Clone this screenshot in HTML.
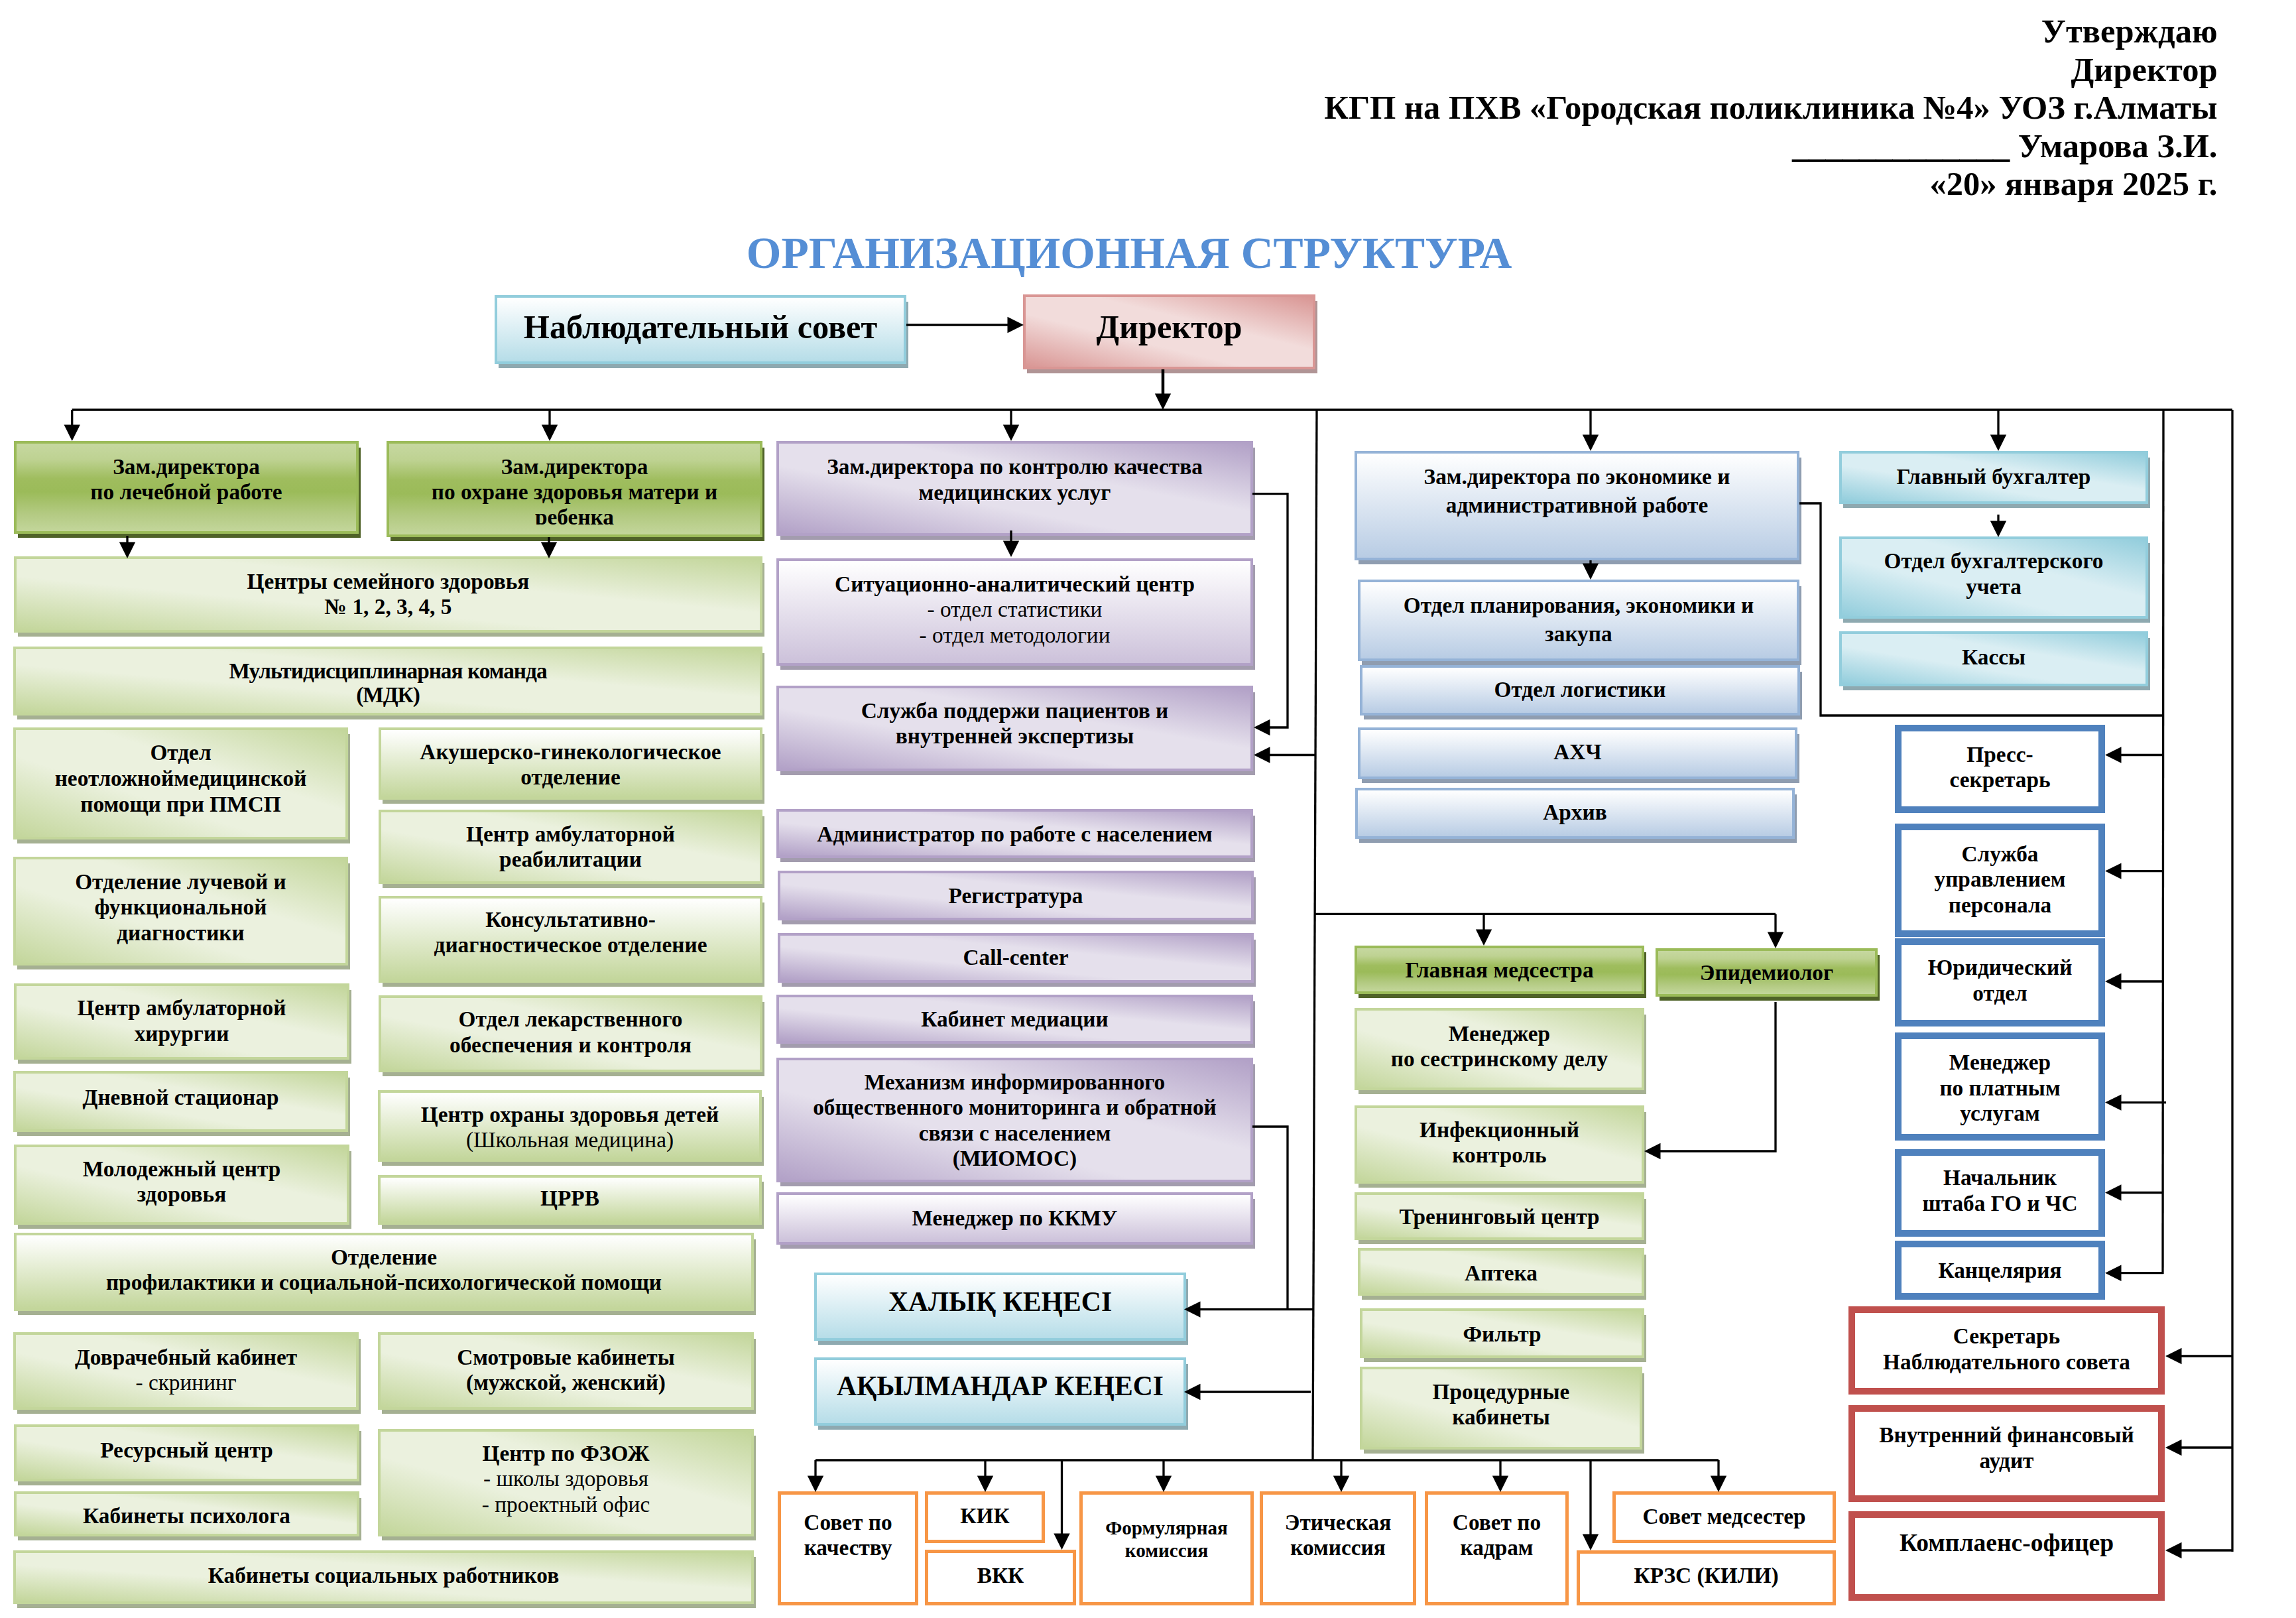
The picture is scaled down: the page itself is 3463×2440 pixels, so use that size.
<!DOCTYPE html>
<html><head><meta charset="utf-8"><title>Организационная структура</title>
<style>
html,body{margin:0;padding:0;background:#fff;}
body{width:3463px;height:2440px;position:relative;overflow:hidden;font-family:"Liberation Serif",serif;color:#000;}
.bx{position:absolute;box-sizing:border-box;overflow:hidden;}
.sh{position:absolute;}
.t{position:absolute;left:-20px;right:-20px;text-align:center;font-weight:bold;white-space:nowrap;}
.r{font-weight:normal;}
.cl{position:absolute;left:0;right:0;top:0;overflow:hidden;}
.ln{position:absolute;left:0;top:0;}
.hdr{position:absolute;right:118.5px;top:0;text-align:right;font-weight:bold;font-size:50.5px;line-height:57.5px;white-space:nowrap;}
.ttl{position:absolute;left:1125.8px;top:0;font-weight:bold;font-size:67.65px;color:#558ed5;white-space:nowrap;line-height:1;}
</style></head><body>

<div class="hdr" style="top:19.1px">Утверждаю<br>Директор<br>КГП на ПХВ «Городская поликлиника №4» УОЗ г.Алматы<br>_____________ Умарова З.И.<br>«20» января 2025 г.</div>
<div class="ttl" style="top:348.3px">ОРГАНИЗАЦИОННАЯ СТРУКТУРА</div>
<div class="sh" style="left:27px;top:675px;width:516.5px;height:136px;background:#4f6228"></div>
<div class="bx" style="left:21px;top:665px;width:520px;height:140px;border:4px solid #9bbb59;background:linear-gradient(180deg,#c6d8a0 0%,#bed292 18%,#9fbd5e 40%,#9bbb59 55%,#b3ca82 80%,#c3d69b 100%)"><div class="t" style="top:15.8px;font-size:33.33px;line-height:38.5px">Зам.директора<br>по лечебной работе</div></div>
<div class="sh" style="left:589px;top:675px;width:563.5px;height:141px;background:#4f6228"></div>
<div class="bx" style="left:583px;top:665px;width:567px;height:145px;border:4px solid #9bbb59;background:linear-gradient(180deg,#c6d8a0 0%,#bed292 18%,#9fbd5e 40%,#9bbb59 55%,#b3ca82 80%,#c3d69b 100%)"><div class="cl" style="height:122px"><div class="t" style="top:15.9px;font-size:33.33px;line-height:38.2px">Зам.директора<br>по охране здоровья матери и<br>ребенка</div></div></div>
<div class="sh" style="left:27px;top:849px;width:1125.5px;height:111px;background:#a5b092"></div>
<div class="bx" style="left:21px;top:839px;width:1129px;height:115px;border:4px solid #c3d69b;background:linear-gradient(to top right,#c3d69b 0%,#ebf1de 38%,#ebf1de 62%,#c3d69b 100%)"><div class="t" style="top:14.8px;font-size:33.33px;line-height:38.5px">Центры семейного здоровья<br>№ 1, 2, 3, 4, 5</div></div>
<div class="sh" style="left:26px;top:985px;width:1126.5px;height:100px;background:#a5b092"></div>
<div class="bx" style="left:20px;top:975px;width:1130px;height:104px;border:4px solid #c3d69b;background:linear-gradient(to top right,#c3d69b 0%,#ebf1de 38%,#ebf1de 62%,#c3d69b 100%)"><div class="t" style="top:14.5px;font-size:33.33px;line-height:36.5px"><span class="" style="letter-spacing:-1px">Мультидисциплинарная команда</span><br><span class="" style="letter-spacing:-1px">(МДК)</span></div></div>
<div class="sh" style="left:26px;top:1107px;width:501.5px;height:165px;background:#a5b092"></div>
<div class="bx" style="left:20px;top:1097px;width:505px;height:169px;border:4px solid #c3d69b;background:linear-gradient(to top right,#c3d69b 0%,#ebf1de 38%,#ebf1de 62%,#c3d69b 100%)"><div class="t" style="top:14.2px;font-size:33.33px;line-height:39px">Отдел<br>неотложноймедицинской<br>помощи при ПМСП</div></div>
<div class="sh" style="left:577px;top:1107px;width:575.5px;height:105px;background:#a5b092"></div>
<div class="bx" style="left:571px;top:1097px;width:579px;height:109px;border:4px solid #c3d69b;background:linear-gradient(180deg,#ffffff 0%,#c3d69b 100%)"><div class="t" style="top:13.8px;font-size:33.33px;line-height:38.5px">Акушерско-гинекологическое<br>отделение</div></div>
<div class="sh" style="left:577px;top:1231px;width:575.5px;height:108px;background:#a5b092"></div>
<div class="bx" style="left:571px;top:1221px;width:579px;height:112px;border:4px solid #c3d69b;background:linear-gradient(to top right,#c3d69b 0%,#ebf1de 38%,#ebf1de 62%,#c3d69b 100%)"><div class="t" style="top:13.8px;font-size:33.33px;line-height:38.5px">Центр амбулаторной<br>реабилитации</div></div>
<div class="sh" style="left:26px;top:1302px;width:501.5px;height:160px;background:#a5b092"></div>
<div class="bx" style="left:20px;top:1292px;width:505px;height:164px;border:4px solid #c3d69b;background:linear-gradient(to top right,#c3d69b 0%,#ebf1de 38%,#ebf1de 62%,#c3d69b 100%)"><div class="t" style="top:14.8px;font-size:33.33px;line-height:38.5px">Отделение лучевой и<br>функциональной<br>диагностики</div></div>
<div class="sh" style="left:577px;top:1361px;width:575.5px;height:127px;background:#a5b092"></div>
<div class="bx" style="left:571px;top:1351px;width:579px;height:131px;border:4px solid #c3d69b;background:linear-gradient(180deg,#ffffff 0%,#c3d69b 100%)"><div class="t" style="top:12.8px;font-size:33.33px;line-height:38.5px">Консультативно-<br>диагностическое отделение</div></div>
<div class="sh" style="left:27px;top:1493px;width:502.5px;height:111px;background:#a5b092"></div>
<div class="bx" style="left:21px;top:1483px;width:506px;height:115px;border:4px solid #c3d69b;background:linear-gradient(to top right,#c3d69b 0%,#ebf1de 38%,#ebf1de 62%,#c3d69b 100%)"><div class="t" style="top:14.3px;font-size:33.33px;line-height:38.5px">Центр амбулаторной<br>хирургии</div></div>
<div class="sh" style="left:577px;top:1511px;width:575.5px;height:112px;background:#a5b092"></div>
<div class="bx" style="left:571px;top:1501px;width:579px;height:116px;border:4px solid #c3d69b;background:linear-gradient(to top right,#c3d69b 0%,#ebf1de 38%,#ebf1de 62%,#c3d69b 100%)"><div class="t" style="top:13.2px;font-size:33.33px;line-height:38.5px">Отдел лекарственного<br>обеспечения и контроля</div></div>
<div class="sh" style="left:26px;top:1625px;width:501.5px;height:88px;background:#a5b092"></div>
<div class="bx" style="left:20px;top:1615px;width:505px;height:92px;border:4px solid #c3d69b;background:linear-gradient(to top right,#c3d69b 0%,#ebf1de 38%,#ebf1de 62%,#c3d69b 100%)"><div class="t" style="top:16.8px;font-size:33.33px;line-height:38.5px">Дневной стационар</div></div>
<div class="sh" style="left:576px;top:1654px;width:575.5px;height:104px;background:#a5b092"></div>
<div class="bx" style="left:570px;top:1644px;width:579px;height:108px;border:4px solid #c3d69b;background:linear-gradient(180deg,#ffffff 0%,#c3d69b 100%)"><div class="t" style="top:13.8px;font-size:33.33px;line-height:38.5px">Центр охраны здоровья детей<br><span class="r">(Школьная медицина)</span></div></div>
<div class="sh" style="left:27px;top:1736px;width:502.5px;height:117px;background:#a5b092"></div>
<div class="bx" style="left:21px;top:1726px;width:506px;height:121px;border:4px solid #c3d69b;background:linear-gradient(to top right,#c3d69b 0%,#ebf1de 38%,#ebf1de 62%,#c3d69b 100%)"><div class="t" style="top:13.8px;font-size:33.33px;line-height:38.5px">Молодежный центр<br>здоровья</div></div>
<div class="sh" style="left:576px;top:1782px;width:575.5px;height:71px;background:#a5b092"></div>
<div class="bx" style="left:570px;top:1772px;width:579px;height:75px;border:4px solid #c3d69b;background:linear-gradient(180deg,#ffffff 0%,#c3d69b 100%)"><div class="t" style="top:11.8px;font-size:33.33px;line-height:38.5px">ЦРРВ</div></div>
<div class="sh" style="left:27px;top:1869px;width:1112.5px;height:114px;background:#a5b092"></div>
<div class="bx" style="left:21px;top:1859px;width:1116px;height:118px;border:4px solid #c3d69b;background:linear-gradient(180deg,#ffffff 0%,#c3d69b 100%)"><div class="t" style="top:13.8px;font-size:33.33px;line-height:38.5px">Отделение<br>профилактики и социальной-психологической помощи</div></div>
<div class="sh" style="left:26px;top:2019px;width:517.5px;height:113px;background:#a5b092"></div>
<div class="bx" style="left:20px;top:2009px;width:521px;height:117px;border:4px solid #c3d69b;background:linear-gradient(to top right,#c3d69b 0%,#ebf1de 38%,#ebf1de 62%,#c3d69b 100%)"><div class="t" style="top:14.8px;font-size:33.33px;line-height:38.5px">Доврачебный кабинет<br><span class="r">- скрининг</span></div></div>
<div class="sh" style="left:576px;top:2019px;width:563.5px;height:113px;background:#a5b092"></div>
<div class="bx" style="left:570px;top:2009px;width:567px;height:117px;border:4px solid #c3d69b;background:linear-gradient(to top right,#c3d69b 0%,#ebf1de 38%,#ebf1de 62%,#c3d69b 100%)"><div class="t" style="top:14.8px;font-size:33.33px;line-height:38.5px">Смотровые кабинеты<br>(мужской, женский)</div></div>
<div class="sh" style="left:27px;top:2158px;width:517.5px;height:82px;background:#a5b092"></div>
<div class="bx" style="left:21px;top:2148px;width:521px;height:86px;border:4px solid #c3d69b;background:linear-gradient(to top right,#c3d69b 0%,#ebf1de 38%,#ebf1de 62%,#c3d69b 100%)"><div class="t" style="top:15.8px;font-size:33.33px;line-height:38.5px">Ресурсный центр</div></div>
<div class="sh" style="left:576px;top:2165px;width:563.5px;height:158px;background:#a5b092"></div>
<div class="bx" style="left:570px;top:2155px;width:567px;height:162px;border:4px solid #c3d69b;background:linear-gradient(to top right,#c3d69b 0%,#ebf1de 38%,#ebf1de 62%,#c3d69b 100%)"><div class="t" style="top:13.8px;font-size:33.33px;line-height:38.5px">Центр по ФЗОЖ<br><span class="r">- школы здоровья</span><br><span class="r">- проектный офис</span></div></div>
<div class="sh" style="left:27px;top:2259px;width:517.5px;height:64px;background:#a5b092"></div>
<div class="bx" style="left:21px;top:2249px;width:521px;height:68px;border:4px solid #c3d69b;background:linear-gradient(to top right,#c3d69b 0%,#ebf1de 38%,#ebf1de 62%,#c3d69b 100%)"><div class="t" style="top:13.8px;font-size:33.33px;line-height:38.5px">Кабинеты психолога</div></div>
<div class="sh" style="left:26px;top:2348px;width:1113.5px;height:77px;background:#a5b092"></div>
<div class="bx" style="left:20px;top:2338px;width:1117px;height:81px;border:4px solid #c3d69b;background:linear-gradient(to top right,#c3d69b 0%,#ebf1de 38%,#ebf1de 62%,#c3d69b 100%)"><div class="t" style="top:14.8px;font-size:33.33px;line-height:38.5px">Кабинеты социальных работников</div></div>
<div class="sh" style="left:1177px;top:675px;width:715.5px;height:139px;background:#a39cae"></div>
<div class="bx" style="left:1171px;top:665px;width:719px;height:143px;border:4px solid #b2a1c7;background:linear-gradient(to top right,#b2a1c7 0%,#e5e0ec 38%,#e5e0ec 62%,#b2a1c7 100%)"><div class="t" style="top:16.1px;font-size:33.33px;line-height:38.5px">Зам.директора по контролю качества<br>медицинских услуг</div></div>
<div class="sh" style="left:1177px;top:852px;width:715.5px;height:158px;background:#a39cae"></div>
<div class="bx" style="left:1171px;top:842px;width:719px;height:162px;border:4px solid #b2a1c7;background:linear-gradient(180deg,#ffffff 0%,#ccc1da 100%)"><div class="t" style="top:15.8px;font-size:33.33px;line-height:38.5px">Ситуационно-аналитический центр<br><span class="r">- отдел статистики</span><br><span class="r">- отдел методологии</span></div></div>
<div class="sh" style="left:1177px;top:1044px;width:715.5px;height:125px;background:#a39cae"></div>
<div class="bx" style="left:1171px;top:1034px;width:719px;height:129px;border:4px solid #b2a1c7;background:linear-gradient(to top right,#b2a1c7 0%,#e5e0ec 38%,#e5e0ec 62%,#b2a1c7 100%)"><div class="t" style="top:14.8px;font-size:33.33px;line-height:38.5px">Служба поддержи пациентов и<br>внутренней экспертизы</div></div>
<div class="sh" style="left:1177px;top:1230px;width:715.5px;height:70px;background:#a39cae"></div>
<div class="bx" style="left:1171px;top:1220px;width:719px;height:74px;border:4px solid #b2a1c7;background:linear-gradient(to top right,#b2a1c7 0%,#e5e0ec 38%,#e5e0ec 62%,#b2a1c7 100%)"><div class="t" style="top:14.8px;font-size:33.33px;line-height:38.5px">Администратор по работе с населением</div></div>
<div class="sh" style="left:1179px;top:1323px;width:714.5px;height:71px;background:#a39cae"></div>
<div class="bx" style="left:1173px;top:1313px;width:718px;height:75px;border:4px solid #b2a1c7;background:linear-gradient(to top right,#b2a1c7 0%,#e5e0ec 38%,#e5e0ec 62%,#b2a1c7 100%)"><div class="t" style="top:14.8px;font-size:33.33px;line-height:38.5px">Регистратура</div></div>
<div class="sh" style="left:1179px;top:1417px;width:714.5px;height:71px;background:#a39cae"></div>
<div class="bx" style="left:1173px;top:1407px;width:718px;height:75px;border:4px solid #b2a1c7;background:linear-gradient(to top right,#b2a1c7 0%,#e5e0ec 38%,#e5e0ec 62%,#b2a1c7 100%)"><div class="t" style="top:13.8px;font-size:33.33px;line-height:38.5px">Call-center</div></div>
<div class="sh" style="left:1177px;top:1510px;width:715.5px;height:70px;background:#a39cae"></div>
<div class="bx" style="left:1171px;top:1500px;width:719px;height:74px;border:4px solid #b2a1c7;background:linear-gradient(to top right,#b2a1c7 0%,#e5e0ec 38%,#e5e0ec 62%,#b2a1c7 100%)"><div class="t" style="top:14.2px;font-size:33.33px;line-height:38.5px">Кабинет медиации</div></div>
<div class="sh" style="left:1177px;top:1605px;width:715.5px;height:184px;background:#a39cae"></div>
<div class="bx" style="left:1171px;top:1595px;width:719px;height:188px;border:4px solid #b2a1c7;background:linear-gradient(to top right,#b2a1c7 0%,#e5e0ec 38%,#e5e0ec 62%,#b2a1c7 100%)"><div class="t" style="top:13.8px;font-size:33.33px;line-height:38.5px">Механизм информированного<br>общественного мониторинга и обратной<br>связи с населением<br>(МИОМОС)</div></div>
<div class="sh" style="left:1177px;top:1808px;width:715.5px;height:75px;background:#a39cae"></div>
<div class="bx" style="left:1171px;top:1798px;width:719px;height:79px;border:4px solid #b2a1c7;background:linear-gradient(180deg,#ffffff 0%,#ccc1da 100%)"><div class="t" style="top:15.8px;font-size:33.33px;line-height:38.5px">Менеджер по ККМУ</div></div>
<div class="sh" style="left:1234px;top:1929px;width:557.5px;height:99px;background:#8ea9b0"></div>
<div class="bx" style="left:1228px;top:1919px;width:561px;height:103px;border:4px solid #92cddc;background:linear-gradient(180deg,#ffffff 0%,#b6dde8 100%)"><div class="t" style="top:15.9px;font-size:41.67px;line-height:48.13px">ХАЛЫҚ КЕҢЕСІ</div></div>
<div class="sh" style="left:1234px;top:2057px;width:557.5px;height:99px;background:#8ea9b0"></div>
<div class="bx" style="left:1228px;top:2047px;width:561px;height:103px;border:4px solid #92cddc;background:linear-gradient(180deg,#ffffff 0%,#b6dde8 100%)"><div class="t" style="top:14.9px;font-size:41.67px;line-height:48.13px">АҚЫЛМАНДАР КЕҢЕСІ</div></div>
<div class="sh" style="left:752px;top:455px;width:617.5px;height:100px;background:#8ea9b0"></div>
<div class="bx" style="left:746px;top:445px;width:621px;height:104px;border:4px solid #92cddc;background:linear-gradient(180deg,#ffffff 0%,#b6dde8 100%)"><div class="t" style="top:15.4px;font-size:50.3px;line-height:58.1px">Наблюдательный совет</div></div>
<div class="sh" style="left:1549px;top:454px;width:437.5px;height:109px;background:#b09495"></div>
<div class="bx" style="left:1543px;top:444px;width:441px;height:113px;border:4px solid #d99694;background:linear-gradient(to top right,#d99694 0%,#f2dcdb 38%,#f2dcdb 62%,#d99694 100%)"><div class="t" style="top:15.9px;font-size:50.3px;line-height:58.1px">Директор</div></div>
<div class="sh" style="left:2049px;top:689.5px;width:667.5px;height:161.5px;background:#8f9db0"></div>
<div class="bx" style="left:2043px;top:679.5px;width:671px;height:165.5px;border:4px solid #95b3d7;background:linear-gradient(180deg,#ffffff 0%,#b8cce4 100%)"><div class="t" style="top:13.6px;font-size:33.33px;line-height:43px">Зам.директора по экономике и<br>административной работе</div></div>
<div class="sh" style="left:2054px;top:884px;width:662.5px;height:119px;background:#8f9db0"></div>
<div class="bx" style="left:2048px;top:874px;width:666px;height:123px;border:4px solid #95b3d7;background:linear-gradient(180deg,#ffffff 0%,#b8cce4 100%)"><div class="t" style="top:13.1px;font-size:33.33px;line-height:43px">Отдел планирования, экономики и<br>закупа</div></div>
<div class="sh" style="left:2057px;top:1013px;width:660.5px;height:72px;background:#8f9db0"></div>
<div class="bx" style="left:2051px;top:1003px;width:664px;height:76px;border:4px solid #95b3d7;background:linear-gradient(180deg,#ffffff 0%,#b8cce4 100%)"><div class="t" style="top:14.2px;font-size:33.33px;line-height:38.5px">Отдел логистики</div></div>
<div class="sh" style="left:2054px;top:1107px;width:659.5px;height:74px;background:#8f9db0"></div>
<div class="bx" style="left:2048px;top:1097px;width:663px;height:78px;border:4px solid #95b3d7;background:linear-gradient(180deg,#ffffff 0%,#b8cce4 100%)"><div class="t" style="top:13.8px;font-size:33.33px;line-height:38.5px">АХЧ</div></div>
<div class="sh" style="left:2050px;top:1198px;width:659.5px;height:73px;background:#8f9db0"></div>
<div class="bx" style="left:2044px;top:1188px;width:663px;height:77px;border:4px solid #95b3d7;background:linear-gradient(180deg,#ffffff 0%,#b8cce4 100%)"><div class="t" style="top:13.8px;font-size:33.33px;line-height:38.5px">Архив</div></div>
<div class="sh" style="left:2049px;top:1436px;width:433.5px;height:69px;background:#4f6228"></div>
<div class="bx" style="left:2043px;top:1426px;width:437px;height:73px;border:4px solid #9bbb59;background:linear-gradient(180deg,#c6d8a0 0%,#bed292 18%,#9fbd5e 40%,#9bbb59 55%,#b3ca82 80%,#c3d69b 100%)"><div class="t" style="top:13.8px;font-size:33.33px;line-height:38.5px">Главная медсестра</div></div>
<div class="sh" style="left:2503px;top:1440px;width:331.5px;height:69px;background:#4f6228"></div>
<div class="bx" style="left:2497px;top:1430px;width:335px;height:73px;border:4px solid #9bbb59;background:linear-gradient(180deg,#c6d8a0 0%,#bed292 18%,#9fbd5e 40%,#9bbb59 55%,#b3ca82 80%,#c3d69b 100%)"><div class="t" style="top:13.8px;font-size:33.33px;line-height:38.5px">Эпидемиолог</div></div>
<div class="sh" style="left:2049px;top:1530px;width:433.5px;height:120px;background:#a5b092"></div>
<div class="bx" style="left:2043px;top:1520px;width:437px;height:124px;border:4px solid #c3d69b;background:linear-gradient(to top right,#c3d69b 0%,#ebf1de 38%,#ebf1de 62%,#c3d69b 100%)"><div class="t" style="top:15.8px;font-size:33.33px;line-height:38.5px">Менеджер<br>по сестринскому делу</div></div>
<div class="sh" style="left:2049px;top:1677px;width:433.5px;height:114px;background:#a5b092"></div>
<div class="bx" style="left:2043px;top:1667px;width:437px;height:118px;border:4px solid #c3d69b;background:linear-gradient(to top right,#c3d69b 0%,#ebf1de 38%,#ebf1de 62%,#c3d69b 100%)"><div class="t" style="top:13.8px;font-size:33.33px;line-height:38.5px">Инфекционный<br>контроль</div></div>
<div class="sh" style="left:2049px;top:1808px;width:433.5px;height:68px;background:#a5b092"></div>
<div class="bx" style="left:2043px;top:1798px;width:437px;height:72px;border:4px solid #c3d69b;background:linear-gradient(to top right,#c3d69b 0%,#ebf1de 38%,#ebf1de 62%,#c3d69b 100%)"><div class="t" style="top:13.8px;font-size:33.33px;line-height:38.5px">Тренинговый центр</div></div>
<div class="sh" style="left:2054px;top:1892px;width:428.5px;height:68px;background:#a5b092"></div>
<div class="bx" style="left:2048px;top:1882px;width:432px;height:72px;border:4px solid #c3d69b;background:linear-gradient(to top right,#c3d69b 0%,#ebf1de 38%,#ebf1de 62%,#c3d69b 100%)"><div class="t" style="top:14.8px;font-size:33.33px;line-height:38.5px">Аптека</div></div>
<div class="sh" style="left:2057px;top:1983px;width:425.5px;height:71px;background:#a5b092"></div>
<div class="bx" style="left:2051px;top:1973px;width:429px;height:75px;border:4px solid #c3d69b;background:linear-gradient(to top right,#c3d69b 0%,#ebf1de 38%,#ebf1de 62%,#c3d69b 100%)"><div class="t" style="top:15.8px;font-size:33.33px;line-height:38.5px">Фильтр</div></div>
<div class="sh" style="left:2057px;top:2071px;width:422.5px;height:121px;background:#a5b092"></div>
<div class="bx" style="left:2051px;top:2061px;width:426px;height:125px;border:4px solid #c3d69b;background:linear-gradient(to top right,#c3d69b 0%,#ebf1de 38%,#ebf1de 62%,#c3d69b 100%)"><div class="t" style="top:14.8px;font-size:33.33px;line-height:38.5px">Процедурные<br>кабинеты</div></div>
<div class="sh" style="left:2780px;top:690px;width:462.5px;height:76px;background:#8ea9b0"></div>
<div class="bx" style="left:2774px;top:680px;width:466px;height:80px;border:4px solid #92cddc;background:linear-gradient(to top right,#92cddc 0%,#daeef3 38%,#daeef3 62%,#92cddc 100%)"><div class="t" style="top:15.8px;font-size:33.33px;line-height:38.5px">Главный бухгалтер</div></div>
<div class="sh" style="left:2780px;top:819px;width:462.5px;height:120px;background:#8ea9b0"></div>
<div class="bx" style="left:2774px;top:809px;width:466px;height:124px;border:4px solid #92cddc;background:linear-gradient(to top right,#92cddc 0%,#daeef3 38%,#daeef3 62%,#92cddc 100%)"><div class="t" style="top:14.4px;font-size:33.33px;line-height:38.5px">Отдел бухгалтерского<br>учета</div></div>
<div class="sh" style="left:2780px;top:962px;width:462.5px;height:79px;background:#8ea9b0"></div>
<div class="bx" style="left:2774px;top:952px;width:466px;height:83px;border:4px solid #92cddc;background:linear-gradient(to top right,#92cddc 0%,#daeef3 38%,#daeef3 62%,#92cddc 100%)"><div class="t" style="top:15.8px;font-size:33.33px;line-height:38.5px">Кассы</div></div>
<div class="bx" style="left:2858px;top:1093px;width:317px;height:133px;border:10px solid #4f81bd;background:#ffffff"><div class="t" style="top:15.8px;font-size:33.33px;line-height:38.5px">Пресс-<br>секретарь</div></div>
<div class="bx" style="left:2858px;top:1242px;width:317px;height:171px;border:10px solid #4f81bd;background:#ffffff"><div class="t" style="top:16.8px;font-size:33.33px;line-height:38.5px">Служба<br>управлением<br>персонала</div></div>
<div class="bx" style="left:2858px;top:1415px;width:317px;height:133px;border:10px solid #4f81bd;background:#ffffff"><div class="t" style="top:15.2px;font-size:33.33px;line-height:38.5px">Юридический<br>отдел</div></div>
<div class="bx" style="left:2858px;top:1557px;width:317px;height:163px;border:10px solid #4f81bd;background:#ffffff"><div class="t" style="top:16.2px;font-size:33.33px;line-height:38.5px">Менеджер<br>по платным<br>услугам</div></div>
<div class="bx" style="left:2858px;top:1733px;width:317px;height:132px;border:10px solid #4f81bd;background:#ffffff"><div class="t" style="top:14.3px;font-size:33.33px;line-height:38.5px">Начальник<br>штаба ГО и ЧС</div></div>
<div class="bx" style="left:2858px;top:1871px;width:317px;height:89px;border:10px solid #4f81bd;background:#ffffff"><div class="t" style="top:15.8px;font-size:33.33px;line-height:38.5px">Канцелярия</div></div>
<div class="bx" style="left:2788px;top:1970px;width:477px;height:133px;border:10px solid #c0504d;background:#ffffff"><div class="t" style="top:16.3px;font-size:33.33px;line-height:38.5px">Секретарь<br>Наблюдательного совета</div></div>
<div class="bx" style="left:2788px;top:2119px;width:477px;height:146px;border:10px solid #c0504d;background:#ffffff"><div class="t" style="top:16.2px;font-size:33.33px;line-height:38.5px">Внутренний финансовый<br>аудит</div></div>
<div class="bx" style="left:2788px;top:2279px;width:477px;height:135px;border:10px solid #c0504d;background:#ffffff"><div class="t" style="top:15.9px;font-size:37.5px;line-height:43.31px">Комплаенс-офицер</div></div>
<div class="bx" style="left:1173px;top:2249px;width:212px;height:172px;border:5px solid #f79646;background:#ffffff"><div class="t" style="top:22.8px;font-size:33.33px;line-height:38.5px">Совет по<br>качеству</div></div>
<div class="bx" style="left:1395px;top:2249px;width:181px;height:78px;border:5px solid #f79646;background:#ffffff"><div class="t" style="top:12.8px;font-size:33.33px;line-height:38.5px">КИК</div></div>
<div class="bx" style="left:1395px;top:2337px;width:228px;height:84px;border:5px solid #f79646;background:#ffffff"><div class="t" style="top:14.8px;font-size:33.33px;line-height:38.5px">ВКК</div></div>
<div class="bx" style="left:1628px;top:2249px;width:263px;height:172px;border:5px solid #f79646;background:#ffffff"><div class="t" style="top:33.0px;font-size:29.17px;line-height:34px">Формулярная<br>комиссия</div></div>
<div class="bx" style="left:1900px;top:2249px;width:236px;height:172px;border:5px solid #f79646;background:#ffffff"><div class="t" style="top:22.8px;font-size:33.33px;line-height:38.5px">Этическая<br>комиссия</div></div>
<div class="bx" style="left:2149px;top:2249px;width:217px;height:172px;border:5px solid #f79646;background:#ffffff"><div class="t" style="top:22.8px;font-size:33.33px;line-height:38.5px">Совет по<br>кадрам</div></div>
<div class="bx" style="left:2432px;top:2249px;width:337px;height:78px;border:5px solid #f79646;background:#ffffff"><div class="t" style="top:13.8px;font-size:33.33px;line-height:38.5px">Совет медсестер</div></div>
<div class="bx" style="left:2378px;top:2338px;width:391px;height:83px;border:5px solid #f79646;background:#ffffff"><div class="t" style="top:13.8px;font-size:33.33px;line-height:38.5px">КРЗС (КИЛИ)</div></div>
<svg class="ln" width="3463" height="2440" viewBox="0 0 3463 2440"><polygon points="1544.0,490.0 1519.5,502.2 1519.5,477.8"/><polyline points="1367.0,490.0 1521.5,490.0" fill="none" stroke="#000" stroke-width="3.3"/><polygon points="1754.0,618.0 1741.8,593.5 1766.2,593.5"/><polyline points="1754.0,557.0 1754.0,595.5" fill="none" stroke="#000" stroke-width="4.5"/><polyline points="108.7,618.0 3367.0,618.0" fill="none" stroke="#000" stroke-width="3.3"/><polygon points="108.7,665.0 96.5,640.5 120.9,640.5"/><polyline points="108.7,618.0 108.7,642.5" fill="none" stroke="#000" stroke-width="3.3"/><polygon points="829.0,665.0 816.8,640.5 841.2,640.5"/><polyline points="829.0,618.0 829.0,642.5" fill="none" stroke="#000" stroke-width="3.3"/><polygon points="1525.0,665.0 1512.8,640.5 1537.2,640.5"/><polyline points="1525.0,618.0 1525.0,642.5" fill="none" stroke="#000" stroke-width="3.3"/><polygon points="2399.0,680.0 2386.8,655.5 2411.2,655.5"/><polyline points="2399.0,618.0 2399.0,657.5" fill="none" stroke="#000" stroke-width="3.3"/><polygon points="3014.0,680.0 3001.8,655.5 3026.2,655.5"/><polyline points="3014.0,618.0 3014.0,657.5" fill="none" stroke="#000" stroke-width="3.3"/><polyline points="1986.0,618.0 1980.0,2202.0" fill="none" stroke="#000" stroke-width="3.3"/><polyline points="3263.0,618.0 3262.0,1921.0" fill="none" stroke="#000" stroke-width="3.3"/><polyline points="3367.0,618.0 3367.0,2340.0" fill="none" stroke="#000" stroke-width="3.3"/><polygon points="3175.0,1138.5 3199.5,1126.3 3199.5,1150.7"/><polyline points="3263.0,1138.5 3197.5,1138.5" fill="none" stroke="#000" stroke-width="3.3"/><polygon points="3175.0,1313.6 3199.5,1301.4 3199.5,1325.8"/><polyline points="3263.0,1313.6 3197.5,1313.6" fill="none" stroke="#000" stroke-width="3.3"/><polygon points="3175.0,1480.0 3199.5,1467.8 3199.5,1492.2"/><polyline points="3263.0,1480.0 3197.5,1480.0" fill="none" stroke="#000" stroke-width="3.3"/><polygon points="3175.0,1662.6 3199.5,1650.4 3199.5,1674.8"/><polyline points="3267.0,1662.6 3197.5,1662.6" fill="none" stroke="#000" stroke-width="3.3"/><polygon points="3175.0,1798.5 3199.5,1786.3 3199.5,1810.7"/><polyline points="3263.0,1798.5 3197.5,1798.5" fill="none" stroke="#000" stroke-width="3.3"/><polygon points="3175.0,1919.7 3199.5,1907.5 3199.5,1931.9"/><polyline points="3263.0,1919.7 3197.5,1919.7" fill="none" stroke="#000" stroke-width="3.3"/><polygon points="3266.0,2045.0 3290.5,2032.8 3290.5,2057.2"/><polyline points="3367.0,2045.0 3288.5,2045.0" fill="none" stroke="#000" stroke-width="3.3"/><polygon points="3266.0,2183.0 3290.5,2170.8 3290.5,2195.2"/><polyline points="3367.0,2183.0 3288.5,2183.0" fill="none" stroke="#000" stroke-width="3.3"/><polygon points="3266.0,2338.0 3290.5,2325.8 3290.5,2350.2"/><polyline points="3367.0,2338.0 3288.5,2338.0" fill="none" stroke="#000" stroke-width="3.3"/><polygon points="1891.0,1097.0 1915.5,1084.8 1915.5,1109.2"/><polyline points="1889.0,744.6 1942.0,744.6 1942.0,1097.0 1913.5,1097.0" fill="none" stroke="#000" stroke-width="3.3"/><polygon points="1891.0,1138.5 1915.5,1126.3 1915.5,1150.7"/><polyline points="1983.0,1138.5 1913.5,1138.5" fill="none" stroke="#000" stroke-width="3.3"/><polyline points="1889.0,1699.0 1942.0,1699.0 1942.0,1974.6" fill="none" stroke="#000" stroke-width="3.3"/><polygon points="1786.0,1974.6 1810.5,1962.4 1810.5,1986.8"/><polyline points="1980.0,1974.6 1808.5,1974.6" fill="none" stroke="#000" stroke-width="3.3"/><polygon points="1786.0,2099.0 1810.5,2086.8 1810.5,2111.2"/><polyline points="1977.0,2099.0 1808.5,2099.0" fill="none" stroke="#000" stroke-width="3.3"/><polyline points="1230.0,2202.0 2592.0,2202.0" fill="none" stroke="#000" stroke-width="3.3"/><polygon points="1230.0,2250.0 1217.8,2225.5 1242.2,2225.5"/><polyline points="1230.0,2202.0 1230.0,2227.5" fill="none" stroke="#000" stroke-width="3.3"/><polygon points="1486.0,2250.0 1473.8,2225.5 1498.2,2225.5"/><polyline points="1486.0,2202.0 1486.0,2227.5" fill="none" stroke="#000" stroke-width="3.3"/><polygon points="1601.5,2337.0 1589.3,2312.5 1613.7,2312.5"/><polyline points="1601.5,2202.0 1601.5,2314.5" fill="none" stroke="#000" stroke-width="3.3"/><polygon points="1755.0,2250.0 1742.8,2225.5 1767.2,2225.5"/><polyline points="1755.0,2202.0 1755.0,2227.5" fill="none" stroke="#000" stroke-width="3.3"/><polygon points="2023.0,2250.0 2010.8,2225.5 2035.2,2225.5"/><polyline points="2023.0,2202.0 2023.0,2227.5" fill="none" stroke="#000" stroke-width="3.3"/><polygon points="2263.0,2250.0 2250.8,2225.5 2275.2,2225.5"/><polyline points="2263.0,2202.0 2263.0,2227.5" fill="none" stroke="#000" stroke-width="3.3"/><polygon points="2399.0,2338.0 2386.8,2313.5 2411.2,2313.5"/><polyline points="2399.0,2202.0 2399.0,2315.5" fill="none" stroke="#000" stroke-width="3.3"/><polygon points="2592.0,2250.0 2579.8,2225.5 2604.2,2225.5"/><polyline points="2592.0,2202.0 2592.0,2227.5" fill="none" stroke="#000" stroke-width="3.3"/><polyline points="2714.0,759.0 2746.0,759.0 2746.0,1079.0 3263.0,1079.0" fill="none" stroke="#000" stroke-width="3.3"/><polyline points="1983.0,1378.4 2678.0,1378.4" fill="none" stroke="#000" stroke-width="3.3"/><polygon points="2238.0,1426.0 2225.8,1401.5 2250.2,1401.5"/><polyline points="2238.0,1378.4 2238.0,1403.5" fill="none" stroke="#000" stroke-width="3.3"/><polygon points="2678.0,1430.0 2665.8,1405.5 2690.2,1405.5"/><polyline points="2678.0,1378.4 2678.0,1407.5" fill="none" stroke="#000" stroke-width="3.3"/><polygon points="2480.0,1736.0 2504.5,1723.8 2504.5,1748.2"/><polyline points="2678.0,1511.0 2678.0,1736.0 2502.5,1736.0" fill="none" stroke="#000" stroke-width="3.3"/><polygon points="192.0,842.0 179.8,817.5 204.2,817.5"/><polyline points="192.0,808.0 192.0,819.5" fill="none" stroke="#000" stroke-width="3.3"/><polygon points="828.0,842.0 815.8,817.5 840.2,817.5"/><polyline points="828.0,810.0 828.0,819.5" fill="none" stroke="#000" stroke-width="3.3"/><polygon points="1525.0,840.0 1512.8,815.5 1537.2,815.5"/><polyline points="1525.0,800.0 1525.0,817.5" fill="none" stroke="#000" stroke-width="3.3"/><polygon points="2399.0,874.0 2386.8,849.5 2411.2,849.5"/><polyline points="2399.0,845.0 2399.0,851.5" fill="none" stroke="#000" stroke-width="3.3"/><polygon points="3014.0,810.0 3001.8,785.5 3026.2,785.5"/><polyline points="3014.0,776.0 3014.0,787.5" fill="none" stroke="#000" stroke-width="3.3"/></svg>
</body></html>
